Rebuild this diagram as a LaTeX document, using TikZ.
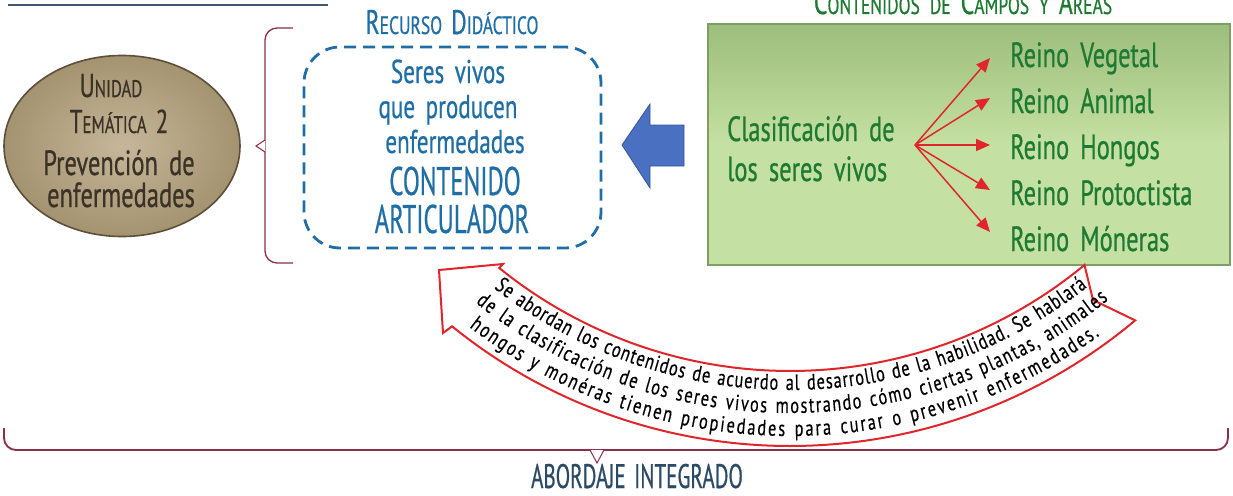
\documentclass[tikz,border=0pt]{standalone}
\usepackage{fontspec}
\setmainfont{PT Sans}
\newfontfamily\cf[FakeStretch=0.7,FakeBold=0.6,WordSpace=1.7]{PT Sans}
\newfontfamily\cg[FakeStretch=0.62,FakeBold=0.5,WordSpace=1.5]{PT Sans}
\newfontfamily\ch[FakeStretch=0.74,FakeBold=0.35,WordSpace=1.3]{PT Sans}
\usetikzlibrary{decorations.text, arrows.meta, shapes.geometric, calc}
\definecolor{tanF}{HTML}{C6B79B}
\definecolor{tanO}{HTML}{A4936F}
\definecolor{tanD}{HTML}{5E4E3C}
\definecolor{tanT}{HTML}{3A3226}
\definecolor{bl}{HTML}{1F6EA6}
\definecolor{grT}{HTML}{1E7A32}
\definecolor{grF}{HTML}{C4E0A2}
\definecolor{grS}{HTML}{9DBE7C}
\definecolor{grD}{HTML}{7E9E66}
\definecolor{rd}{HTML}{E0262B}
\definecolor{mar}{HTML}{8C2F48}
\definecolor{arB}{HTML}{4A70C2}
\definecolor{arD}{HTML}{34569A}
\definecolor{navy}{HTML}{2B4A66}
\definecolor{topl}{HTML}{3D5A6C}
\newcommand\fsz[1]{\fontsize{#1}{#1}\selectfont}
\newcommand\ctext{\ch\fontsize{22}{24}\selectfont}
\begin{document}
\begin{tikzpicture}[x=1pt,y=-1pt,
  txt/.style={inner sep=0pt, anchor=base},
  brk/.style={draw=mar, line width=1.3pt, rounded corners=12pt},
  ptr/.style={draw=mar, fill=white, line width=1pt},
  fan/.style={draw=rd, line width=1.5pt, -{Triangle[length=14pt,width=12pt]}},
  curv/.style={decorate, decoration={text along path, text align={fit to path}}}]
\useasboundingbox (0,0) rectangle (1233,495);
\fill[white] (0,0) rectangle (1233,495);
% top line
\coordinate (tl1) at (8,5); \coordinate (tl2) at (328,5);
\draw[topl, line width=2.5pt] (tl1) -- (tl2);
% ellipse
\node[ellipse, minimum width=236pt, minimum height=181pt, inner color=tanF, outer color=tanO, draw=tanD, line width=1.6pt] (ell) at (122,146) {};
\node[txt, text=tanT] (u1) at (111,97) {\cf{\fsz{33}U}{\fsz{24}NIDAD}};
\node[txt, text=tanT] (u2) at (119,133) {\cf{\fsz{33}T}{\fsz{24}EMÁTICA}\hspace{9pt}{\fsz{33}2}};
\node[txt, text=tanT] (u3) at (119,175) {\cf\fsz{35}Prevención de};
\node[txt, text=tanT] (u4) at (121,207) {\cf\fsz{35}enfermedades};
% left bracket
\coordinate (lt) at (293,28); \coordinate (lp) at (265,146); \coordinate (lb) at (293,263);
\draw[brk] (lt) -| (lp) |- (lb);
\draw[ptr] ($(lp)+(0,-6)$) -- ($(lp)+(-9,0)$) -- ($(lp)+(0,6)$);
% recurso didactico
\node[txt, text=bl] (rd) at (452,34) {\cf{\fsz{34}R}{\fsz{25}ECURSO}\hspace{9pt}{\fsz{34}D}{\fsz{25}IDÁCTICO}};
\node[draw=bl, dash pattern=on 12pt off 7pt, line width=2.8pt, rounded corners=36pt, minimum width=297pt, minimum height=201pt] (rbox) at (452.5,147.5) {};
\node[txt, text=bl] (s1) at (448,83) {\cf\fsz{33}Seres vivos};
\node[txt, text=bl] (s2) at (448,118) {\cf\fsz{33}que producen};
\node[txt, text=bl] (s3) at (455,153) {\cf\fsz{33}enfermedades};
\node[txt, text=bl] (s4) at (455,195) {\cg\fsz{40}CONTENIDO};
\node[txt, text=bl] (s5) at (452,233) {\cg\fsz{40}ARTICULADOR};
% blue arrow
\fill[arB, draw=arD, line width=0.8pt] (622,145) -- (650,104) -- (650,125) -- (684,125) -- (684,166) -- (650,166) -- (650,188) -- cycle;
% contenidos de campos
\node[txt, text=grT] (cc) at (963,14) {\cf{\fsz{34}C}{\fsz{25}ONTENIDOS}\hspace{10pt}{\fsz{25}DE}\hspace{10pt}{\fsz{34}C}{\fsz{25}AMPOS}\hspace{10pt}{\fsz{25}Y}\hspace{10pt}{\fsz{34}Á}{\fsz{25}REAS}};
\node[minimum width=522pt, minimum height=241pt, top color=grS, bottom color=grF, middle color=grF, draw=grD, line width=1.2pt] (gbox) at (969,144.5) {};
\node[txt, anchor=base west, text=grT] (c1) at (727,141) {\cf\fsz{35}Clasificación de};
\node[txt, anchor=base west, text=grT] (c2) at (727,181) {\cf\fsz{35}los seres vivos};
\node[txt, anchor=base west, text=grT] (r1) at (1010,67) {\cf\fsz{35}Reino Vegetal};
\node[txt, anchor=base west, text=grT] (r2) at (1010,113) {\cf\fsz{35}Reino Animal};
\node[txt, anchor=base west, text=grT] (r3) at (1010,159) {\cf\fsz{35}Reino Hongos};
\node[txt, anchor=base west, text=grT] (r4) at (1010,205) {\cf\fsz{35}Reino Protoctista};
\node[txt, anchor=base west, text=grT] (r5) at (1010,251) {\cf\fsz{35}Reino Móneras};
\coordinate (fo) at (915,145);
\coordinate (t1) at (990,58); \coordinate (t2) at (990,98); \coordinate (t3) at (990,145);
\coordinate (t4) at (990,190); \coordinate (t5) at (990,232);
\foreach \t in {t1,t2,t3,t4,t5} \draw[fan] (fo) -- (\t);
% curved arrow
\draw[rd, line width=2pt, fill=white, line join=miter]
  plot[domain=50:129, samples=80] ({790+537*cos(\x)},{-91+537*sin(\x)})
  -- (443,333) -- (439,270) -- (503,264)
  -- plot[domain=129:50.4, samples=80] ({790+462*cos(\x)},{-91+462*sin(\x)})
  -- (1093,300) -- cycle;
{\ctext
\path[curv, decoration={text={Se abordan los contenidos de acuerdo al desarrollo de la habilidad. Se hablará}}]
  plot[domain=128:51.8, samples=80] ({790+481*cos(\x)},{-91+481*sin(\x)});
\path[curv, decoration={text={de la clasificación de los seres vivos mostrando cómo ciertas plantas, animales}}]
  plot[domain=128.6:50.8, samples=80] ({790+504*cos(\x)},{-91+504*sin(\x)});
\path[curv, decoration={text={hongos y monéras tienen propiedades para curar o prevenir enfermedades.}}]
  plot[domain=127.5:54, samples=80] ({790+527*cos(\x)},{-91+527*sin(\x)});
}
% bottom bracket
\coordinate (bl1) at (4,428); \coordinate (bp) at (597,450); \coordinate (br1) at (1228,428);
\draw[brk, line width=1.8pt] (bl1) |- (bp) -| (br1);
\draw[ptr] ($(bp)+(-7,0)$) -- ($(bp)+(0,13)$) -- ($(bp)+(7,0)$);
\node[txt, text=navy] (ab) at (637,488) {\cg\fsz{34}ABORDAJE INTEGRADO};
\end{tikzpicture}
\end{document}
